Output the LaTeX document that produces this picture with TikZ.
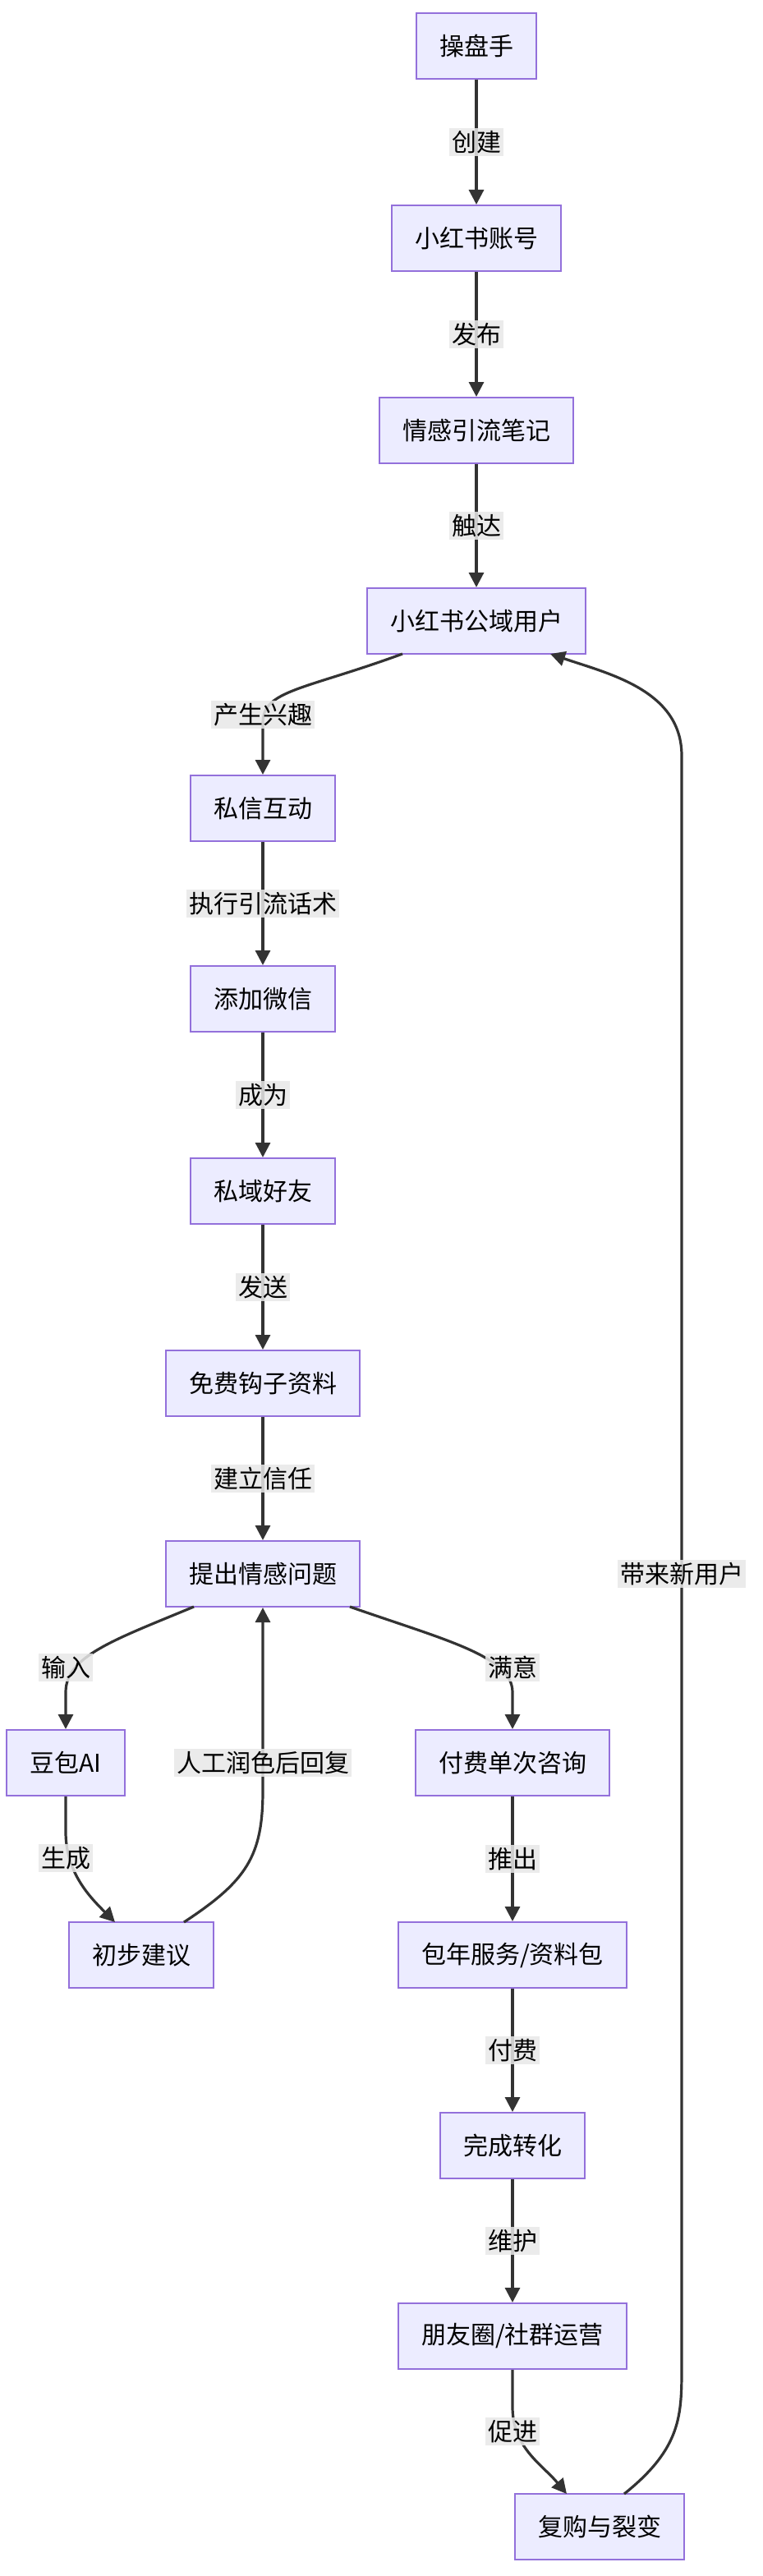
\documentclass[tikz,border=0pt]{standalone}
\usepackage{fontspec}
\setmainfont{Noto Sans CJK SC}
\usetikzlibrary{arrows.meta}
\definecolor{boxfill}{HTML}{ECECFF}
\definecolor{boxline}{HTML}{9370DB}
\definecolor{edgeline}{HTML}{333333}
\definecolor{lblfill}{HTML}{E8E8E8}
\tikzset{
  stepbox/.style={draw=boxline, fill=boxfill, line width=1pt, minimum height=40pt, inner xsep=14pt, font=\fontsize{15pt}{18pt}\selectfont},
  flow/.style={draw=edgeline, line width=1.6pt, -{Triangle[length=9pt,width=9pt]}},
  lbl/.style={fill=lblfill, fill opacity=.85, text opacity=1, inner sep=1.5pt, font=\fontsize{15pt}{18pt}\selectfont}
}
\begin{document}
\begin{tikzpicture}[x=1pt,y=-1pt]
\useasboundingbox (0,0) rectangle (464,1568);

% main chain
\node[stepbox] (op)   at (290,28)   {操盘手};
\node[stepbox] (acct) at (290,145)  {小红书账号};
\node[stepbox] (note) at (290,262)  {情感引流笔记};
\node[stepbox] (pub)  at (290,378)  {小红书公域用户};
\node[stepbox] (dm)   at (160,492)  {私信互动};
\node[stepbox] (wx)   at (160,608)  {添加微信};
\node[stepbox] (fr)   at (160,725)  {私域好友};
\node[stepbox] (hook) at (160,842)  {免费钩子资料};
\node[stepbox] (ask)  at (160,958)  {提出情感问题};
\node[stepbox] (ai)   at (40,1073)  {豆包AI};
\node[stepbox] (adv)  at (86,1190)  {初步建议};
\node[stepbox] (once) at (312,1073) {付费单次咨询};
\node[stepbox] (year) at (312,1190) {包年服务/资料包};
\node[stepbox] (done) at (312,1306) {完成转化};
\node[stepbox] (grp)  at (312,1422) {朋友圈/社群运营};
\node[stepbox] (rep)  at (365,1538) {复购与裂变};

\draw[flow] (op) -- node[lbl]{创建} (acct);
\draw[flow] (acct) -- node[lbl]{发布} (note);
\draw[flow] (note) -- node[lbl]{触达} (pub);
\draw[flow] (245,398) .. controls (185,420) and (160,420) .. (160,440) -- (dm.north);
\node[lbl] (l1) at (160,435) {产生兴趣};
\draw[flow] (dm) -- node[lbl]{执行引流话术} (wx);
\draw[flow] (wx) -- node[lbl]{成为} (fr);
\draw[flow] (fr) -- node[lbl]{发送} (hook);
\draw[flow] (hook) -- node[lbl]{建立信任} (ask);

% branches
\draw[flow] (118,978) .. controls (70,998) and (40,1008) .. (40,1030) -- (ai.north);
\node[lbl] (l2) at (40,1015) {输入};
\draw[flow] (213,978) .. controls (270,998) and (312,1008) .. (312,1030) -- (once.north);
\node[lbl] (l3) at (312,1015) {满意};
\draw[flow] (ai.south) -- (40,1115) .. controls (40,1140) and (55,1155) .. (70,1170);
\node[lbl] (l4) at (40,1131) {生成};
\draw[flow] (112,1170) .. controls (150,1145) and (160,1130) .. (160,1090) -- (ask.south);
\node[lbl] (l5) at (160,1073) {人工润色后回复};
\draw[flow] (once) -- node[lbl]{推出} (year);
\draw[flow] (year) -- node[lbl]{付费} (done);
\draw[flow] (done) -- node[lbl]{维护} (grp);
\draw[flow] (grp.south) -- (312,1465) .. controls (312,1490) and (330,1500) .. (345,1518);
\node[lbl] (l6) at (312,1480) {促进};

% feedback
\draw[flow] (380,1518) .. controls (415,1490) and (415,1470) .. (415,1440) -- (415,460) .. controls (415,420) and (370,410) .. (335,398);
\node[lbl] (l7) at (415,958) {带来新用户};
\end{tikzpicture}
\end{document}
